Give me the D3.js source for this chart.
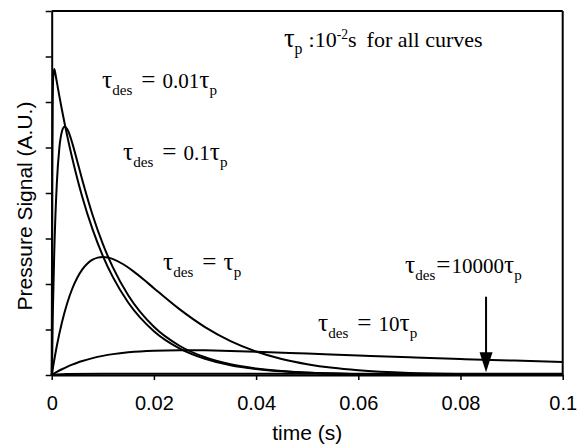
<!DOCTYPE html>
<html>
<head>
<meta charset="utf-8">
<script src="https://cdn.jsdelivr.net/npm/d3@7"></script>
<style>
html,body{margin:0;padding:0;background:#fff;}
svg{display:block;}
</style>
</head>
<body>
<svg id="chart" width="582" height="447"></svg>
<script>
// ---- data ----
const xTicks = [0, 0.02, 0.04, 0.06, 0.08, 0.1];
const xTickLabels = ["0", "0.02", "0.04", "0.06", "0.08", "0.1"];
const yTicks = [0, 1, 2, 3, 4, 5, 6, 7, 8];

const tA = [0, 0.0001, 0.0002, 0.0003, 0.0005, 0.0008, 0.001, 0.0015, 0.002, 0.003, 0.004, 0.005, 0.006, 0.008, 0.01, 0.012, 0.015, 0.02, 0.025, 0.03, 0.035, 0.04, 0.05, 0.06, 0.07, 0.08, 0.09, 0.1];
const yA = [0, 4.431, 6.016, 6.556, 6.726, 6.571, 6.443, 6.129, 5.830, 5.275, 4.773, 4.319, 3.908, 3.200, 2.620, 2.145, 1.589, 0.964, 0.585, 0.355, 0.215, 0.130, 0.048, 0.018, 0.0065, 0.0024, 0.0009, 0.0003];

const tB = [0, 0.0002, 0.0005, 0.001, 0.0015, 0.002, 0.0025, 0.003, 0.0035, 0.004, 0.005, 0.006, 0.008, 0.01, 0.012, 0.015, 0.02, 0.025, 0.03, 0.035, 0.04, 0.05, 0.06, 0.07, 0.08, 0.09, 0.1];
const yB = [0, 1.265, 2.700, 4.206, 4.994, 5.353, 5.458, 5.413, 5.284, 5.107, 4.698, 4.280, 3.517, 2.881, 2.359, 1.748, 1.060, 0.643, 0.390, 0.237, 0.143, 0.053, 0.019, 0.0071, 0.0026, 0.0010, 0.0004];

const tC = [0, 0.001, 0.002, 0.003, 0.004, 0.005, 0.006, 0.007, 0.008, 0.009, 0.01, 0.011, 0.012, 0.014, 0.016, 0.018, 0.02, 0.025, 0.03, 0.035, 0.04, 0.045, 0.05, 0.055, 0.06, 0.07, 0.08, 0.09, 0.1];
const yC = [0, 0.638, 1.154, 1.567, 1.890, 2.138, 2.321, 2.451, 2.534, 2.580, 2.594, 2.581, 2.548, 2.434, 2.277, 2.098, 1.908, 1.447, 1.053, 0.745, 0.517, 0.352, 0.238, 0.158, 0.105, 0.045, 0.019, 0.0078, 0.0032];

const tD = [0, 0.001, 0.002, 0.003, 0.004, 0.005, 0.006, 0.008, 0.01, 0.012, 0.015, 0.02, 0.025, 0.03, 0.035, 0.04, 0.05, 0.06, 0.07, 0.08, 0.09, 0.1];
const yD = [0, 0.0667, 0.1265, 0.1799, 0.2275, 0.2700, 0.3078, 0.3711, 0.4206, 0.4588, 0.4994, 0.5353, 0.5458, 0.5413, 0.5284, 0.5107, 0.4698, 0.4280, 0.3883, 0.3517, 0.3184, 0.2881];

const tE = [0, 0.001, 0.003, 0.01, 0.03, 0.06, 0.1];
const yE = [0, 0.01, 0.02, 0.03, 0.03, 0.03, 0.03];

const seriesT = [tA, tB, tC, tD, tE];
const seriesY = [yA, yB, yC, yD, yE];

const arrowX = 0.085, arrowFrom = 1.72, arrowTo = 0.06;

// ---- layout ----
const svg = d3.select("#chart");
const L = 51.7, R = 562.7, T = 11, B = 375;
const x = d3.scaleLinear().domain([0, 0.1]).range([L, R]);
const y = d3.scaleLinear().domain([0, 8]).range([B, T]);

const sans = "'Liberation Sans', Arial, sans-serif";
const serif = "'Liberation Serif', 'Times New Roman', serif";

// curves
const line = d3.line().x(d => x(d[0])).y(d => y(d[1])).curve(d3.curveMonotoneX);
seriesT.forEach((ts, i) => {
  const pts = ts.map((t, j) => [t, seriesY[i][j]]);
  svg.append("path").attr("d", line(pts))
    .attr("fill", "none").attr("stroke", "#000").attr("stroke-width", 2)
    .attr("stroke-linejoin", "round");
});

// axes
const xAxis = d3.axisBottom(x).tickValues(xTicks).tickFormat((d, i) => xTickLabels[i]).tickSize(5).tickSizeOuter(0);
const gx = svg.append("g").attr("transform", `translate(0,${B})`).call(xAxis);
gx.select(".domain").attr("stroke-width", 2);
gx.selectAll(".tick line").attr("stroke-width", 1.5);
gx.selectAll(".tick text").attr("font-family", sans).attr("font-size", 20).attr("fill", "#000").attr("dy", null).attr("y", 35);

const yAxis = d3.axisLeft(y).tickValues(yTicks).tickFormat("").tickSize(6).tickSizeOuter(0);
const gy = svg.append("g").attr("transform", `translate(${L},0)`).call(yAxis);
gy.select(".domain").attr("stroke-width", 2);
gy.selectAll(".tick line").attr("stroke-width", 1.5);

// frame top & right
svg.append("line").attr("x1", L).attr("x2", R).attr("y1", T).attr("y2", T).attr("stroke", "#000").attr("stroke-width", 2);
svg.append("line").attr("x1", R).attr("x2", R).attr("y1", T).attr("y2", B).attr("stroke", "#000").attr("stroke-width", 2);

// axis titles
svg.append("text").attr("x", (L + R) / 2).attr("y", 440).attr("text-anchor", "middle")
  .attr("font-family", sans).attr("font-size", 21).text("time (s)");
svg.append("text").attr("transform", `translate(32,206) rotate(-90)`).attr("text-anchor", "middle")
  .attr("font-family", sans).attr("font-size", 21).text("Pressure Signal (A.U.)");

// annotations
function rich(xp, yp, parts, size) {
  const t = svg.append("text").attr("x", xp).attr("y", yp).attr("font-family", serif)
    .attr("font-size", size).attr("fill", "#000");
  let shift = 0;
  parts.forEach(p => {
    const ts = t.append("tspan").text(p.t);
    let target = 0, fs = size;
    if (p.big) fs = size * 1.2;
    if (p.sub) { target = size * 0.33; fs = size * 0.72; }
    if (p.sup) { target = -size * 0.38; fs = size * 0.62; }
    ts.attr("font-size", fs).attr("dy", target - shift);
    if (p.dx) ts.attr("dx", p.dx);
    shift = target;
  });
  return t;
}
const fs = 21;
const tau = (dx) => ({t:"τ", big:true, dx});
const DES = {t:"des", sub:true}, P = {t:"p", sub:true};
const EQ = {t:"=", big:true, dx:9};
rich(284, 47, [tau(0), P, {t:":10", dx:6}, {t:"-2", sup:true}, {t:"s"}, {t:"for all curves", dx:10}], 22);
rich(102, 88, [tau(0), DES, EQ, {t:"0.01", dx:7}, tau(0), P], fs);
rich(123, 160, [tau(0), DES, EQ, {t:"0.1", dx:7}, tau(0), P], fs);
rich(163, 270, [tau(0), DES, EQ, tau(7), P], fs);
rich(318, 331, [tau(0), DES, EQ, {t:"10", dx:7}, tau(0), P], fs);
rich(405, 273, [tau(0), DES, {t:"=", big:true, dx:1}, {t:"10000", dx:1}, tau(0), P], fs);

// arrow
const ax = x(arrowX);
svg.append("line").attr("x1", ax).attr("x2", ax).attr("y1", y(arrowFrom)).attr("y2", y(arrowTo) - 15)
  .attr("stroke", "#000").attr("stroke-width", 2);
svg.append("path").attr("d", `M${ax - 6.5},${y(arrowTo) - 20} L${ax + 6.5},${y(arrowTo) - 20} L${ax},${y(arrowTo)} Z`).attr("fill", "#000");
</script>
</body>
</html>
